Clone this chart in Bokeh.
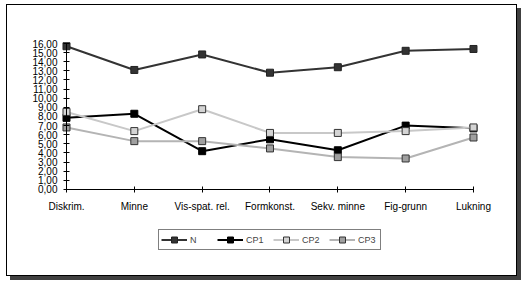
from bokeh.plotting import figure
from bokeh.models import Range1d, FixedTicker, Legend, LegendItem, LinearAxis
from bokeh.embed import file_html
from bokeh.resources import INLINE

categories = ["Diskrim.", "Minne", "Vis-spat. rel.", "Formkonst.", "Sekv. minne", "Fig-grunn", "Lukning"]
n_vals = [15.7, 13.1, 14.8, 12.8, 13.4, 15.2, 15.4]
cp1_vals = [7.85, 8.3, 4.2, 5.5, 4.3, 7.0, 6.7]
cp2_vals = [8.5, 6.4, 8.8, 6.2, 6.2, 6.4, 6.8]
cp3_vals = [6.8, 5.3, 5.3, 4.5, 3.55, 3.4, 5.7]
series_names = ["N", "CP1", "CP2", "CP3"]
y_ticks = list(range(0, 17))
y_tick_labels = [f"{t},00" for t in y_ticks]

FONT = "Liberation Sans"
xs = list(range(len(categories)))

p = figure(width=511, height=272, output_backend="svg", toolbar_location=None,
           x_range=Range1d(-0.3096, 6.428), y_range=Range1d(-6.795, 16.548),
           min_border_left=38, min_border_right=16, min_border_top=33, min_border_bottom=26)
p.outline_line_color = None
p.grid.visible = False
p.background_fill_color = "white"
p.border_fill_color = "white"
p.styles = {"margin-left": "6px", "margin-top": "4px",
            "border": "1px solid #000000", "box-shadow": "4px 4px 0 #404040"}

# x axis drawn at y = 0
xa = p.xaxis[0]
xa.fixed_location = 0
xa.ticker = FixedTicker(ticks=xs)
xa.major_label_overrides = {i: c for i, c in enumerate(categories)}
xa.bounds = (0, len(categories) - 1)
xa.major_label_standoff = 9
xa.axis_line_color = "#000000"
xa.major_tick_line_color = "#000000"
xa.major_tick_in = 3
xa.major_tick_out = 3
xa.minor_tick_line_color = None
xa.major_label_text_font = FONT
xa.major_label_text_font_size = "10px"
xa.major_label_text_color = "#000000"

# y labels only (sit at the frame's left side)
ya = p.yaxis[0]
ya.ticker = FixedTicker(ticks=y_ticks)
ya.major_label_overrides = {t: l for t, l in zip(y_ticks, y_tick_labels)}
ya.axis_line_color = None
ya.major_tick_line_color = None
ya.major_tick_in = 0
ya.major_tick_out = 0
ya.minor_tick_line_color = None
ya.major_label_standoff = -12
ya.major_label_text_font = FONT
ya.major_label_text_font_size = "10px"
ya.major_label_text_color = "#000000"

# y axis line and ticks at the first category
yline = LinearAxis(ticker=FixedTicker(ticks=y_ticks),
                   major_label_overrides={t: "" for t in y_ticks},
                   fixed_location=0, bounds=(y_ticks[0], y_ticks[-1]),
                   axis_line_color="#000000", major_tick_line_color="#000000",
                   major_tick_in=3, major_tick_out=3, minor_tick_line_color=None,
                   major_label_standoff=0)
p.add_layout(yline, "left")

styles = [("#333333", "#333333", "#222222"),
          ("#000000", "#000000", "#000000"),
          ("#c8c8c8", "#d4d4d4", "#333333"),
          ("#b4b4b4", "#a0a0a0", "#333333")]
data = [n_vals, cp1_vals, cp2_vals, cp3_vals]
items = []
for name, vals, (lc, fc, mlc) in zip(series_names, data, styles):
    l = p.line(xs, vals, line_color=lc, line_width=2)
    s = p.scatter(xs, vals, marker="square", size=7, fill_color=fc, line_color=mlc, line_width=1)
    items.append(LegendItem(label=name, renderers=[l, s]))

legend = Legend(items=items, orientation="horizontal", location=(113, 1),
                border_line_color="#000000", border_line_width=1,
                background_fill_color="white", background_fill_alpha=1,
                label_text_font=FONT, label_text_font_size="9px",
                glyph_width=26, glyph_height=15, label_height=15,
                padding=2, spacing=7, label_standoff=3, margin=0)
p.add_layout(legend, "center")

open("out.html", "w").write(file_html(p, INLINE))
